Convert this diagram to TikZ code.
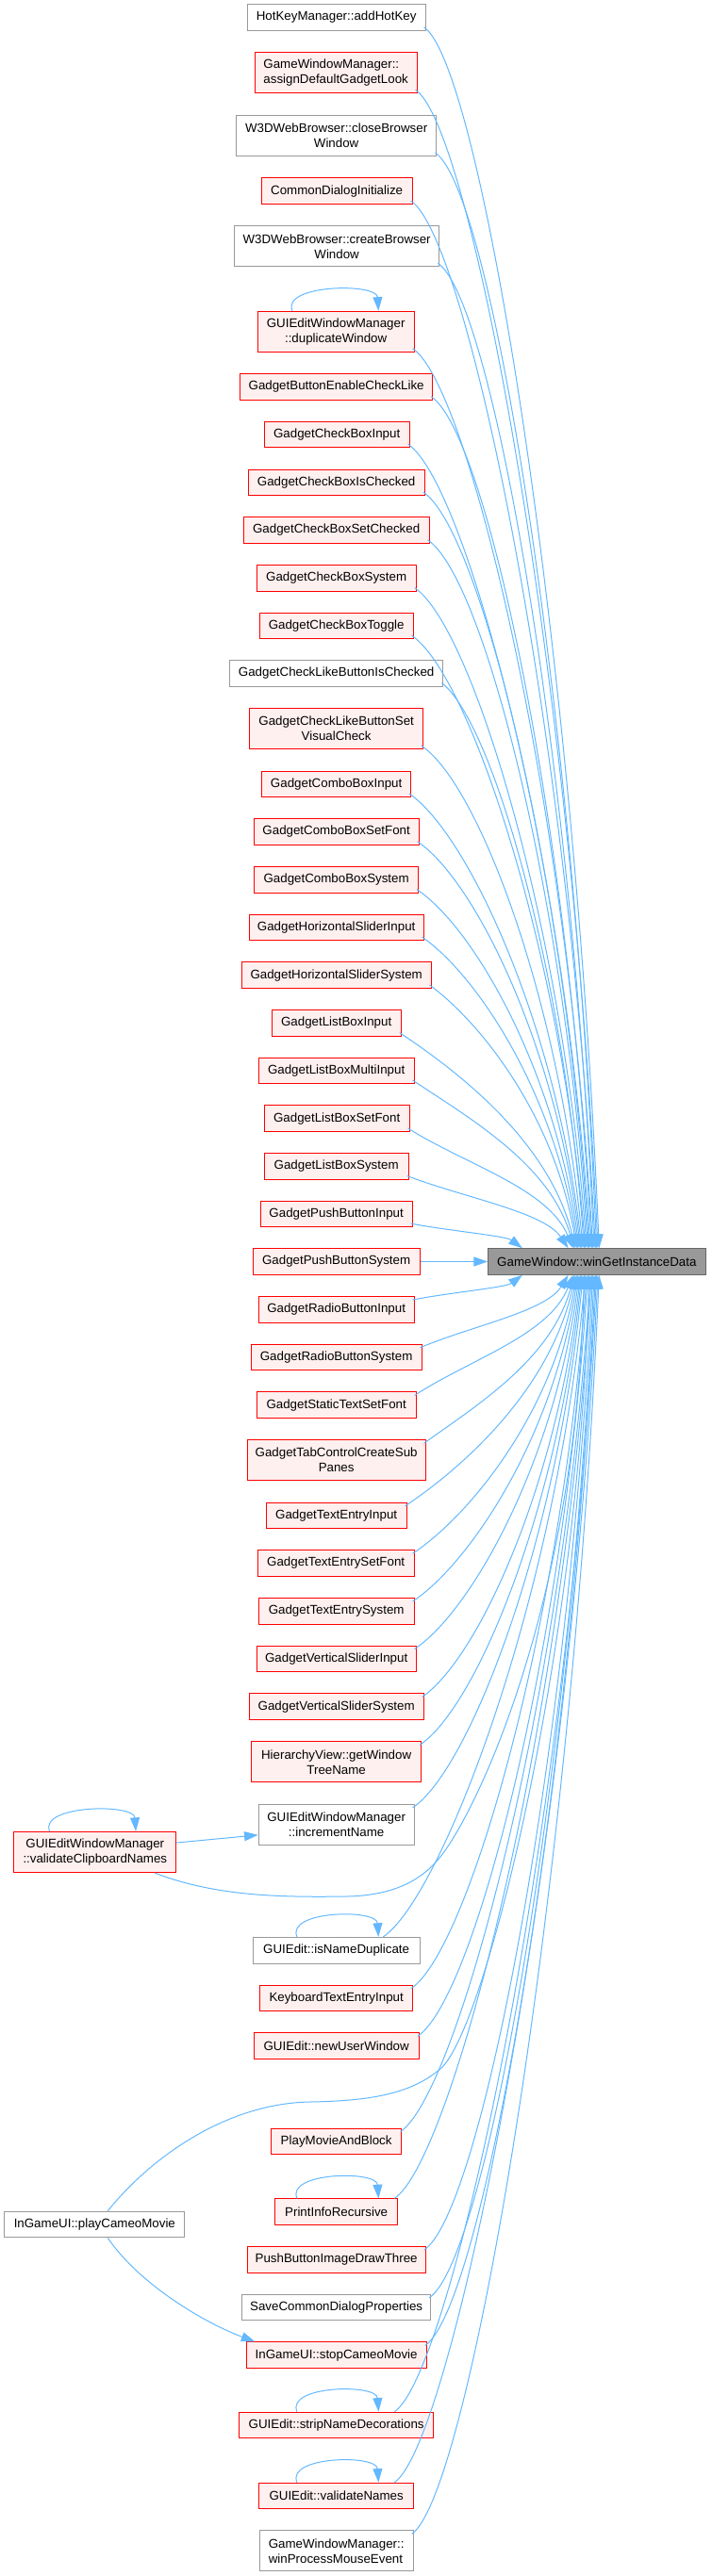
\documentclass[tikz,border=0pt]{standalone}
\usepackage{fontspec}
\setmainfont{Liberation Sans}
\usetikzlibrary{calc,arrows.meta}
\definecolor{edgeblue}{HTML}{63B8FF}
\definecolor{redfill}{HTML}{FFF0F0}
\definecolor{grayline}{HTML}{999999}
\definecolor{tgtline}{HTML}{666666}
\definecolor{tgtfill}{HTML}{999999}
\newcommand\calledge[2]{%
  \draw[edge] let \p1=(#1), \p2=(#2), \n1={\x2-\x1}, \n2={\y2-\y1} in
    (\p1) .. controls ({\x1+min(0.35*\n1,45pt)},{\y1+sign(\n2)*min(0.3*abs(\n2),30pt)})
    and ({\x2-0.15*\n1},{\y2-0.5*\n2}) .. (\p2);}
\newcommand\selfloop[3]{%
  \draw[edge] ($(#1.north)+(#2,0)$) .. controls +(-12,-28) and +(-2,-30) .. ($(#1.north)+(#3,0)$);}
\begin{document}
\begin{tikzpicture}[x=0.7451pt,y=-0.75pt,
  font=\fontsize{10}{12}\selectfont,
  box/.style={draw, line width=0.75pt, inner sep=0pt, align=center, minimum height=20.7pt},
  rbox/.style={box, draw=red, fill=redfill},
  gbox/.style={box, draw=grayline, fill=white},
  tbox/.style={box, draw=tgtline, fill=tgtfill},
  tall/.style={minimum height=32.25pt},
  bw/.style={minimum width={#1*0.7451pt}},
  edge/.style={draw=edgeblue, line width=0.75pt, -{Triangle[length=11pt,width=7.5pt]}}]
\useasboundingbox (0,0) rectangle (758.96,2733);

% nodes above
\node[gbox,bw=190] (n1) at (359,18.5) {HotKeyManager::addHotKey};
\node[rbox,bw=173,tall,align=left] (n2) at (358.5,77.3) {GameWindowManager::\\assignDefaultGadgetLook};
\node[gbox,bw=214,tall] (n3) at (359,144) {W3DWebBrowser::closeBrowser\\Window};
\node[rbox,bw=161] (n4) at (359.5,202.7) {CommonDialogInitialize};
\node[gbox,bw=219,tall] (n5) at (359.5,261.3) {W3DWebBrowser::createBrowser\\Window};
\node[rbox,bw=167,tall] (n6) at (358.5,351.8) {GUIEditWindowManager\\::duplicateWindow};
\node[rbox,bw=205.5] (n7) at (359,410.5) {GadgetButtonEnableCheckLike};
\node[rbox,bw=155] (n8) at (359.5,461) {GadgetCheckBoxInput};
\node[rbox,bw=188.5] (n9) at (359,511.8) {GadgetCheckBoxIsChecked};
\node[rbox,bw=198] (n10) at (359,562.5) {GadgetCheckBoxSetChecked};
\node[rbox,bw=170] (n11) at (359,613.3) {GadgetCheckBoxSystem};
\node[rbox,bw=164] (n12) at (359,664) {GadgetCheckBoxToggle};
\node[gbox,bw=228] (n13) at (359,714.3) {GadgetCheckLikeButtonIsChecked};
\node[rbox,bw=184.6,tall] (n14) at (359,773.2) {GadgetCheckLikeButtonSet\\VisualCheck};
\node[rbox,bw=158.5] (n15) at (359,831.8) {GadgetComboBoxInput};
\node[rbox,bw=176] (n16) at (359,882.5) {GadgetComboBoxSetFont};
\node[rbox,bw=174.5] (n17) at (359,933.2) {GadgetComboBoxSystem};
\node[rbox,bw=186] (n18) at (359,983.8) {GadgetHorizontalSliderInput};
\node[rbox,bw=202] (n19) at (359,1034.7) {GadgetHorizontalSliderSystem};
\node[rbox,bw=138] (n20) at (359,1085.3) {GadgetListBoxInput};
\node[rbox,bw=166] (n21) at (359,1135.8) {GadgetListBoxMultiInput};
\node[rbox,bw=155] (n22) at (359.5,1186.7) {GadgetListBoxSetFont};
\node[rbox,bw=154] (n23) at (359,1237.2) {GadgetListBoxSystem};
\node[rbox,bw=162] (n24) at (359,1287.8) {GadgetPushButtonInput};
\node[rbox,bw=178.4] (n25) at (359,1338.5) {GadgetPushButtonSystem};
\node[tbox,bw=232] (t) at (637,1338.5) {GameWindow::winGetInstanceData};
% nodes below
\node[rbox,bw=166] (n26) at (359,1389.3) {GadgetRadioButtonInput};
\node[rbox,bw=182] (n27) at (359,1440) {GadgetRadioButtonSystem};
\node[rbox,bw=170] (n28) at (359,1490.7) {GadgetStaticTextSetFont};
\node[rbox,bw=190,tall] (n29) at (359,1549.2) {GadgetTabControlCreateSub\\Panes};
\node[rbox,bw=150] (n30) at (359,1608) {GadgetTextEntryInput};
\node[rbox,bw=167] (n31) at (358.5,1658.5) {GadgetTextEntrySetFont};
\node[rbox,bw=166] (n32) at (359,1709.3) {GadgetTextEntrySystem};
\node[rbox,bw=170] (n33) at (359,1759.8) {GadgetVerticalSliderInput};
\node[rbox,bw=186] (n34) at (359,1810.7) {GadgetVerticalSliderSystem};
\node[rbox,bw=181,tall] (n35) at (359,1869.3) {HierarchyView::getWindow\\TreeName};
\node[gbox,bw=166,tall] (n36) at (359,1935.8) {GUIEditWindowManager\\::incrementName};
\node[rbox,bw=173,tall] (n37) at (101.5,1965) {GUIEditWindowManager\\::validateClipboardNames};
\node[gbox,bw=178] (n38) at (359,2069.2) {GUIEdit::isNameDuplicate};
\node[rbox,bw=162.5] (n39) at (359,2120) {KeyboardTextEntryInput};
\node[rbox,bw=176.4] (n40) at (359,2170.7) {GUIEdit::newUserWindow};
\node[rbox,bw=139.5] (n41) at (359,2272) {PlayMovieAndBlock};
\node[gbox,bw=192.5] (n42) at (101,2360) {InGameUI::playCameoMovie};
\node[rbox,bw=130.5] (n43) at (359,2346.7) {PrintInfoRecursive};
\node[rbox,bw=190.5] (n44) at (359,2397.3) {PushButtonImageDrawThree};
\node[gbox,bw=201.5] (n45) at (359,2448) {SaveCommonDialogProperties};
\node[rbox,bw=192.5] (n46) at (359,2498.7) {InGameUI::stopCameoMovie};
\node[rbox,bw=208] (n47) at (359,2573) {GUIEdit::stripNameDecorations};
\node[rbox,bw=164.4] (n48) at (359,2648) {GUIEdit::validateNames};
\node[gbox,bw=164,tall,align=left] (n49) at (359,2706.3) {GameWindowManager::\\winProcessMouseEvent};

% edges from above
\calledge{$(n1.south east)+(-2,-4)$}{$(t.north west)+(119,0)$}
\calledge{$(n2.south east)+(-2,-4)$}{$(t.north west)+(117.7,0)$}
\calledge{$(n3.south east)+(-2,-4)$}{$(t.north west)+(116.3,0)$}
\calledge{$(n4.south east)+(-2,-4)$}{$(t.north west)+(115,0)$}
\calledge{$(n5.south east)+(-2,-4)$}{$(t.north west)+(113.7,0)$}
\calledge{$(n6.south east)+(-2,-4)$}{$(t.north west)+(112.3,0)$}
\calledge{$(n7.south east)+(-2,-4)$}{$(t.north west)+(111,0)$}
\calledge{$(n8.south east)+(-2,-4)$}{$(t.north west)+(109.7,0)$}
\calledge{$(n9.south east)+(-2,-4)$}{$(t.north west)+(108.3,0)$}
\calledge{$(n10.south east)+(-2,-4)$}{$(t.north west)+(107,0)$}
\calledge{$(n11.south east)+(-2,-4)$}{$(t.north west)+(105.7,0)$}
\calledge{$(n12.south east)+(-2,-4)$}{$(t.north west)+(104.3,0)$}
\calledge{$(n13.south east)+(-2,-4)$}{$(t.north west)+(103,0)$}
\calledge{$(n14.south east)+(-2,-4)$}{$(t.north west)+(101.7,0)$}
\calledge{$(n15.south east)+(-2,-4)$}{$(t.north west)+(100.3,0)$}
\calledge{$(n16.south east)+(-2,-4)$}{$(t.north west)+(99,0)$}
\calledge{$(n17.south east)+(-2,-4)$}{$(t.north west)+(97.7,0)$}
\calledge{$(n18.south east)+(-2,-4)$}{$(t.north west)+(96.3,0)$}
\calledge{$(n19.south east)+(-2,-4)$}{$(t.north west)+(95,0)$}
\calledge{$(n20.south east)+(-2,-4)$}{$(t.north west)+(93.7,0)$}
\calledge{$(n21.south east)+(-2,-4)$}{$(t.north west)+(92.3,0)$}
\calledge{$(n22.south east)+(-2,-4)$}{$(t.north west)+(91,0)$}
\calledge{$(n23.south east)+(-2,-4)$}{$(t.north west)+(86,0)$}
\calledge{$(n24.south east)+(-2,-4)$}{$(t.north west)+(37,0)$}
\draw[edge] (n25.east) -- (t.west);
% edges from below
\calledge{$(n26.north east)+(-2,4)$}{$(t.south west)+(37,0)$}
\calledge{$(n27.north east)+(-2,4)$}{$(t.south west)+(86,0)$}
\calledge{$(n28.north east)+(-2,4)$}{$(t.south west)+(91,0)$}
\calledge{$(n29.north east)+(-2,4)$}{$(t.south west)+(92.3,0)$}
\calledge{$(n30.north east)+(-2,4)$}{$(t.south west)+(93.7,0)$}
\calledge{$(n31.north east)+(-2,4)$}{$(t.south west)+(95,0)$}
\calledge{$(n32.north east)+(-2,4)$}{$(t.south west)+(96.3,0)$}
\calledge{$(n33.north east)+(-2,4)$}{$(t.south west)+(97.7,0)$}
\calledge{$(n34.north east)+(-2,4)$}{$(t.south west)+(99,0)$}
\calledge{$(n35.north east)+(-2,4)$}{$(t.south west)+(100.3,0)$}
\calledge{$(n36.north east)+(-2,4)$}{$(t.south west)+(101.7,0)$}
\draw[edge] ($(n37.south)+(63.5,0)$) .. controls (230,2012) and (300,2013) .. (370,2012)
  .. controls (420,2011) and (450,1995) .. (470,1970)
  .. controls (510,1920) and (615,1700) .. ($(t.south west)+(103,0)$);
\calledge{$(n38.north)+(50,0)$}{$(t.south west)+(104.3,0)$}
\calledge{$(n39.north east)+(-2,4)$}{$(t.south west)+(105.7,0)$}
\calledge{$(n40.north east)+(-2,4)$}{$(t.south west)+(107,0)$}
\draw[edge] ($(n42.north)+(14,0)$) .. controls (160,2290) and (240,2232) .. (330,2230)
  .. controls (400,2229) and (440,2220) .. (470,2195)
  .. controls (518,2155) and (618,1750) .. ($(t.south west)+(108.3,0)$);
\calledge{$(n41.north east)+(-2,4)$}{$(t.south west)+(109.7,0)$}
\calledge{$(n43.north)+(62,0)$}{$(t.south west)+(111,0)$}
\calledge{$(n44.north east)+(-2,4)$}{$(t.south west)+(112.3,0)$}
\calledge{$(n45.north east)+(-2,4)$}{$(t.south west)+(113.7,0)$}
\calledge{$(n46.north east)+(-2,4)$}{$(t.south west)+(115,0)$}
\calledge{$(n47.north)+(62,0)$}{$(t.south west)+(116.3,0)$}
\calledge{$(n48.north)+(62,0)$}{$(t.south west)+(117.7,0)$}
\calledge{$(n49.north east)+(-2,4)$}{$(t.south west)+(119,0)$}
% other edges
\draw[edge] ($(n37.east)+(0,-10)$) -- ($(n36.west)+(0,11)$);
\draw[edge] ($(n42.south)+(14,0)$) .. controls (150,2425) and (220,2465) .. ($(n46.north west)+(10,0)$);
% self loops
\selfloop{n6}{-46.5}{45.5}
\selfloop{n37}{-48.5}{43.5}
\selfloop{n38}{-42}{45}
\selfloop{n43}{-42}{45}
\selfloop{n47}{-42}{45}
\selfloop{n48}{-42}{45}
\end{tikzpicture}
\end{document}
